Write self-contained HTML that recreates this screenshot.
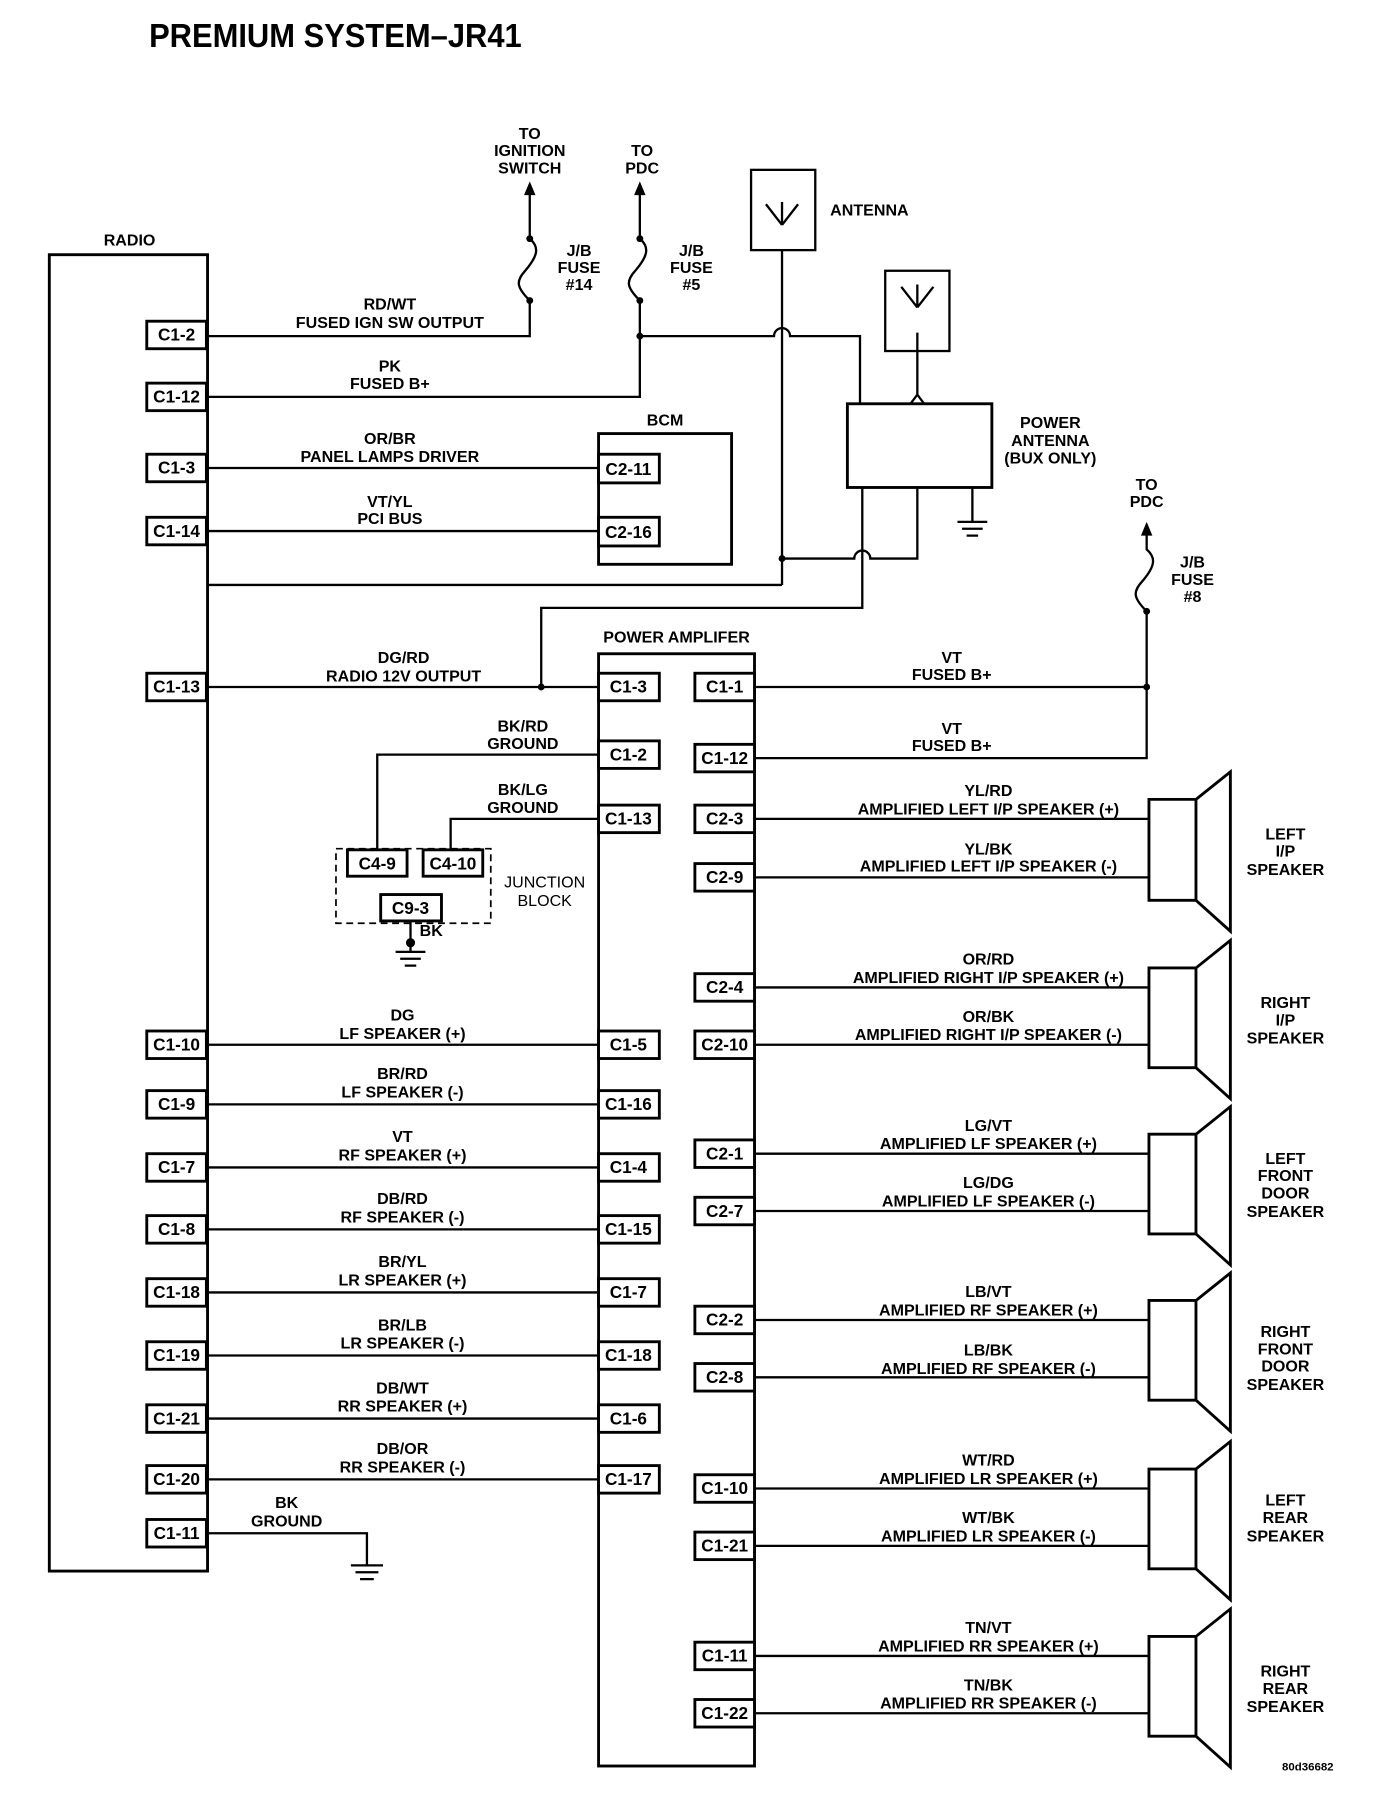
<!DOCTYPE html>
<html><head><meta charset="utf-8"><style>
html,body{margin:0;padding:0;background:#fff}
svg{display:block}
text{font-family:"Liberation Sans",Arial,sans-serif;font-weight:bold;font-size:14px;fill:#000}
.c{text-anchor:middle}
.k{font-size:15px}
</style></head><body>
<svg width="1376" height="1804" viewBox="0 0 1200 1573" xmlns="http://www.w3.org/2000/svg">
<g fill="none" stroke="#000" stroke-width="2">
<rect x="43" y="222" width="138" height="1148" stroke-width="2.5"/>
<rect x="522" y="570" width="136" height="970" stroke-width="2.5"/>
<rect x="522" y="378" width="116" height="114" stroke-width="2.5"/>
<rect x="655" y="148" width="56" height="70"/>
<rect x="772" y="236" width="56" height="70"/>
<rect x="739" y="352" width="126" height="73" stroke-width="2.5"/>
<path d="M682 218 V510 M682 196 L668 178 M682 196 L696 178 M682 196 V176"/>
<path d="M800 290 V345 M800 268 L786 250 M800 268 L814 250 M800 268 V248 M794 352 L800 344 L806 352"/>
<path d="M181 293 H462 V262"/>
<path d="M462 262 C450 250 450 245 458 236 C470 222 470 215 462 208 V168"/>
<path d="M181 346 H558 V262"/>
<path d="M558 262 C546 250 546 245 554 236 C566 222 566 215 558 208 V168"/>
<path d="M558 293 H675 A7 7 0 0 1 689 293 H750 V352"/>
<path d="M181 408 H522 M181 463 H522"/>
<path d="M181 510 H682"/>
<path d="M800 425 V487 H759 A7 7 0 0 0 745 487 H682"/>
<path d="M752 425 V530 H472 V599"/>
<path d="M848 425 V455 M835 455 H861 M839 461 H857 M843 467 H853"/>
<path d="M1000 533 C988 521 988 516 996 507 C1008 493 1008 486 1000 479 V465"/>
<path d="M1000 533 V661 H658 M658 599 H1000"/>
<path d="M181 599 H522"/>
<path d="M522 658 H329 V741 M522 714 H393 V741"/>
<path d="M181 911 H522 M181 963 H522 M181 1018 H522 M181 1072 H522 M181 1127 H522 M181 1182 H522 M181 1237 H522 M181 1290 H522"/>
<path d="M181 1337 H320 V1365 M306 1365 H334 M310 1371 H330 M314 1377 H326"/>
<rect x="293" y="740" width="135" height="65" stroke-dasharray="6 4" stroke-width="1.5"/>
<path d="M358 803 V822 M345 830 H371 M349 836 H367 M353 842 H363 M358 822 V830"/>
<path d="M658 714 H1002 M658 765 H1002 M658 861 H1002 M658 911 H1002 M658 1006 H1002 M658 1056 H1002 M658 1151 H1002 M658 1201 H1002 M658 1298 H1002 M658 1348 H1002 M658 1444 H1002 M658 1494 H1002"/>
<g stroke-width="2.5">
<path d="M1002 697 H1043 V785 H1002 Z M1043 697 L1073 673 V812 L1043 785"/>
<path d="M1002 844 H1043 V931 H1002 Z M1043 844 L1073 820 V958 L1043 931"/>
<path d="M1002 989 H1043 V1076 H1002 Z M1043 989 L1073 965 V1103 L1043 1076"/>
<path d="M1002 1134 H1043 V1221 H1002 Z M1043 1134 L1073 1110 V1248 L1043 1221"/>
<path d="M1002 1281 H1043 V1368 H1002 Z M1043 1281 L1073 1257 V1395 L1043 1368"/>
<path d="M1002 1427 H1043 V1514 H1002 Z M1043 1427 L1073 1403 V1541 L1043 1514"/>
</g>
<g stroke-width="2.5" fill="#fff">
<rect x="128" y="280" width="52" height="24"/><rect x="128" y="334" width="52" height="24"/>
<rect x="128" y="396" width="52" height="24"/><rect x="128" y="451" width="52" height="24"/>
<rect x="128" y="587" width="52" height="24"/><rect x="128" y="899" width="52" height="24"/>
<rect x="128" y="951" width="52" height="24"/><rect x="128" y="1006" width="52" height="24"/>
<rect x="128" y="1060" width="52" height="24"/><rect x="128" y="1115" width="52" height="24"/>
<rect x="128" y="1170" width="52" height="24"/><rect x="128" y="1225" width="52" height="24"/>
<rect x="128" y="1278" width="52" height="24"/><rect x="128" y="1325" width="52" height="24"/>
<rect x="522" y="396" width="53" height="25"/><rect x="522" y="451" width="53" height="25"/>
<rect x="522" y="587" width="53" height="24"/><rect x="522" y="646" width="53" height="24"/>
<rect x="522" y="702" width="53" height="24"/><rect x="522" y="899" width="53" height="24"/>
<rect x="522" y="951" width="53" height="24"/><rect x="522" y="1006" width="53" height="24"/>
<rect x="522" y="1060" width="53" height="24"/><rect x="522" y="1115" width="53" height="24"/>
<rect x="522" y="1170" width="53" height="24"/><rect x="522" y="1225" width="53" height="24"/>
<rect x="522" y="1278" width="53" height="24"/>
<rect x="606" y="587" width="52" height="24"/><rect x="606" y="649" width="52" height="24"/>
<rect x="606" y="702" width="52" height="24"/><rect x="606" y="753" width="52" height="24"/>
<rect x="606" y="849" width="52" height="24"/><rect x="606" y="899" width="52" height="24"/>
<rect x="606" y="994" width="52" height="24"/><rect x="606" y="1044" width="52" height="24"/>
<rect x="606" y="1139" width="52" height="24"/><rect x="606" y="1189" width="52" height="24"/>
<rect x="606" y="1286" width="52" height="24"/><rect x="606" y="1336" width="52" height="24"/>
<rect x="606" y="1432" width="52" height="24"/><rect x="606" y="1482" width="52" height="24"/>
<rect x="303" y="741" width="52" height="23"/><rect x="369" y="741" width="52" height="23"/>
<rect x="332" y="780" width="53" height="23"/>
</g>
</g>
<g fill="#000">
<circle cx="462" cy="262" r="3"/><circle cx="462" cy="208" r="3"/>
<circle cx="558" cy="262" r="3"/><circle cx="558" cy="208" r="3"/><circle cx="558" cy="293" r="3"/>
<circle cx="682" cy="487" r="3"/><circle cx="472" cy="599" r="3"/>
<circle cx="1000" cy="533" r="3"/><circle cx="1000" cy="599" r="3"/><circle cx="358" cy="822" r="4"/>
<path d="M462 158 L457 170 H467 Z M558 158 L553 170 H563 Z M1000 455 L995 467 H1005 Z"/>
</g>
<text x="130" y="41" style="font-size:29px" textLength="325" lengthAdjust="spacingAndGlyphs">PREMIUM SYSTEM–JR41</text>
<text x="113" y="214" class="c">RADIO</text>
<text x="580" y="371" class="c">BCM</text>
<text x="590" y="560" class="c">POWER AMPLIFER</text>
<text x="724" y="188">ANTENNA</text>
<text class="c" x="916" y="373">POWER</text><text class="c" x="916" y="389">ANTENNA</text><text class="c" x="916" y="404">(BUX ONLY)</text>
<text class="c" x="462" y="121">TO</text><text class="c" x="462" y="136">IGNITION</text><text class="c" x="462" y="151">SWITCH</text>
<text class="c" x="560" y="136">TO</text><text class="c" x="560" y="151">PDC</text>
<text class="c" x="1000" y="427">TO</text><text class="c" x="1000" y="442">PDC</text>
<text class="c" x="505" y="223">J/B</text><text class="c" x="505" y="238">FUSE</text><text class="c" x="505" y="253">#14</text>
<text class="c" x="603" y="223">J/B</text><text class="c" x="603" y="238">FUSE</text><text class="c" x="603" y="253">#5</text>
<text class="c" x="1040" y="495">J/B</text><text class="c" x="1040" y="510">FUSE</text><text class="c" x="1040" y="525">#8</text>
<text class="c" x="475" y="774" style="font-weight:normal">JUNCTION</text><text class="c" x="475" y="790" style="font-weight:normal">BLOCK</text>
<text x="366" y="816">BK</text>
<g>
<text class="c k" x="154" y="297">C1-2</text><text class="c k" x="154" y="351">C1-12</text>
<text class="c k" x="154" y="413">C1-3</text><text class="c k" x="154" y="468">C1-14</text>
<text class="c k" x="154" y="604">C1-13</text><text class="c k" x="154" y="916">C1-10</text>
<text class="c k" x="154" y="968">C1-9</text><text class="c k" x="154" y="1023">C1-7</text>
<text class="c k" x="154" y="1077">C1-8</text><text class="c k" x="154" y="1132">C1-18</text>
<text class="c k" x="154" y="1187">C1-19</text><text class="c k" x="154" y="1242">C1-21</text>
<text class="c k" x="154" y="1295">C1-20</text><text class="c k" x="154" y="1342">C1-11</text>
<text class="c k" x="548" y="414">C2-11</text><text class="c k" x="548" y="469">C2-16</text>
<text class="c k" x="548" y="604">C1-3</text><text class="c k" x="548" y="663">C1-2</text>
<text class="c k" x="548" y="719">C1-13</text><text class="c k" x="548" y="916">C1-5</text>
<text class="c k" x="548" y="968">C1-16</text><text class="c k" x="548" y="1023">C1-4</text>
<text class="c k" x="548" y="1077">C1-15</text><text class="c k" x="548" y="1132">C1-7</text>
<text class="c k" x="548" y="1187">C1-18</text><text class="c k" x="548" y="1242">C1-6</text>
<text class="c k" x="548" y="1295">C1-17</text>
<text class="c k" x="632" y="604">C1-1</text><text class="c k" x="632" y="666">C1-12</text>
<text class="c k" x="632" y="719">C2-3</text><text class="c k" x="632" y="770">C2-9</text>
<text class="c k" x="632" y="866">C2-4</text><text class="c k" x="632" y="916">C2-10</text>
<text class="c k" x="632" y="1011">C2-1</text><text class="c k" x="632" y="1061">C2-7</text>
<text class="c k" x="632" y="1156">C2-2</text><text class="c k" x="632" y="1206">C2-8</text>
<text class="c k" x="632" y="1303">C1-10</text><text class="c k" x="632" y="1353">C1-21</text>
<text class="c k" x="632" y="1449">C1-11</text><text class="c k" x="632" y="1499">C1-22</text>
<text class="c k" x="329" y="758">C4-9</text><text class="c k" x="395" y="758">C4-10</text>
<text class="c k" x="358" y="797">C9-3</text>
</g>
<text class="c" x="340" y="270">RD/WT</text><text class="c" x="340" y="286">FUSED IGN SW OUTPUT</text>
<text class="c" x="340" y="324">PK</text><text class="c" x="340" y="339">FUSED B+</text>
<text class="c" x="340" y="387">OR/BR</text><text class="c" x="340" y="403">PANEL LAMPS DRIVER</text>
<text class="c" x="340" y="442">VT/YL</text><text class="c" x="340" y="457">PCI BUS</text>
<text class="c" x="352" y="578">DG/RD</text><text class="c" x="352" y="594">RADIO 12V OUTPUT</text>
<text class="c" x="456" y="638">BK/RD</text><text class="c" x="456" y="653">GROUND</text>
<text class="c" x="456" y="693">BK/LG</text><text class="c" x="456" y="709">GROUND</text>
<text class="c" x="351" y="890">DG</text><text class="c" x="351" y="906">LF SPEAKER (+)</text>
<text class="c" x="351" y="941">BR/RD</text><text class="c" x="351" y="957">LF SPEAKER (-)</text>
<text class="c" x="351" y="996">VT</text><text class="c" x="351" y="1012">RF SPEAKER (+)</text>
<text class="c" x="351" y="1050">DB/RD</text><text class="c" x="351" y="1066">RF SPEAKER (-)</text>
<text class="c" x="351" y="1105">BR/YL</text><text class="c" x="351" y="1121">LR SPEAKER (+)</text>
<text class="c" x="351" y="1160">BR/LB</text><text class="c" x="351" y="1176">LR SPEAKER (-)</text>
<text class="c" x="351" y="1215">DB/WT</text><text class="c" x="351" y="1231">RR SPEAKER (+)</text>
<text class="c" x="351" y="1268">DB/OR</text><text class="c" x="351" y="1284">RR SPEAKER (-)</text>
<text class="c" x="250" y="1315">BK</text><text class="c" x="250" y="1331">GROUND</text>
<text class="c" x="830" y="578">VT</text><text class="c" x="830" y="593">FUSED B+</text>
<text class="c" x="830" y="640">VT</text><text class="c" x="830" y="655">FUSED B+</text>
<text class="c" x="862" y="694">YL/RD</text><text class="c" x="862" y="710">AMPLIFIED LEFT I/P SPEAKER (+)</text>
<text class="c" x="862" y="745">YL/BK</text><text class="c" x="862" y="760">AMPLIFIED LEFT I/P SPEAKER (-)</text>
<text class="c" x="862" y="841">OR/RD</text><text class="c" x="862" y="857">AMPLIFIED RIGHT I/P SPEAKER (+)</text>
<text class="c" x="862" y="891">OR/BK</text><text class="c" x="862" y="907">AMPLIFIED RIGHT I/P SPEAKER (-)</text>
<text class="c" x="862" y="986">LG/VT</text><text class="c" x="862" y="1002">AMPLIFIED LF SPEAKER (+)</text>
<text class="c" x="862" y="1036">LG/DG</text><text class="c" x="862" y="1052">AMPLIFIED LF SPEAKER (-)</text>
<text class="c" x="862" y="1131">LB/VT</text><text class="c" x="862" y="1147">AMPLIFIED RF SPEAKER (+)</text>
<text class="c" x="862" y="1182">LB/BK</text><text class="c" x="862" y="1198">AMPLIFIED RF SPEAKER (-)</text>
<text class="c" x="862" y="1278">WT/RD</text><text class="c" x="862" y="1294">AMPLIFIED LR SPEAKER (+)</text>
<text class="c" x="862" y="1328">WT/BK</text><text class="c" x="862" y="1344">AMPLIFIED LR SPEAKER (-)</text>
<text class="c" x="862" y="1424">TN/VT</text><text class="c" x="862" y="1440">AMPLIFIED RR SPEAKER (+)</text>
<text class="c" x="862" y="1474">TN/BK</text><text class="c" x="862" y="1490">AMPLIFIED RR SPEAKER (-)</text>
<text class="c" x="1121" y="732">LEFT</text><text class="c" x="1121" y="747">I/P</text><text class="c" x="1121" y="763">SPEAKER</text>
<text class="c" x="1121" y="879">RIGHT</text><text class="c" x="1121" y="894">I/P</text><text class="c" x="1121" y="910">SPEAKER</text>
<text class="c" x="1121" y="1015">LEFT</text><text class="c" x="1121" y="1030">FRONT</text><text class="c" x="1121" y="1045">DOOR</text><text class="c" x="1121" y="1061">SPEAKER</text>
<text class="c" x="1121" y="1166">RIGHT</text><text class="c" x="1121" y="1181">FRONT</text><text class="c" x="1121" y="1196">DOOR</text><text class="c" x="1121" y="1212">SPEAKER</text>
<text class="c" x="1121" y="1313">LEFT</text><text class="c" x="1121" y="1328">REAR</text><text class="c" x="1121" y="1344">SPEAKER</text>
<text class="c" x="1121" y="1462">RIGHT</text><text class="c" x="1121" y="1477">REAR</text><text class="c" x="1121" y="1493">SPEAKER</text>
<text x="1118" y="1544" style="font-size:10px">80d36682</text>
</svg>
</body></html>
